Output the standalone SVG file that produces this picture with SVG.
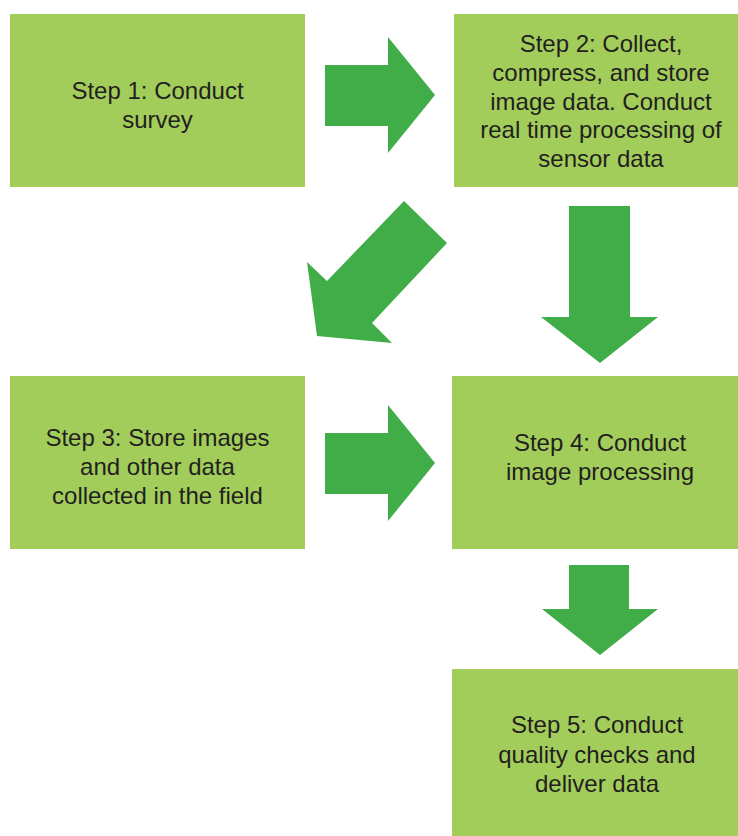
<svg xmlns="http://www.w3.org/2000/svg" width="738" height="836" viewBox="0 0 738 836">
  <style>
    .box { fill: #A2CD5A; }
    .arrow { fill: #41AD49; }
    .label { font-family: "Liberation Sans", Arial, sans-serif; font-size: 24px; fill: #231F20; text-anchor: middle; }
  </style>
  <rect width="738" height="836" fill="#FFFFFF"/>

  <g id="step1">
    <rect class="box" x="10" y="14" width="295" height="173"/>
    <text class="label" x="157.5" y="99">Step 1: Conduct</text>
    <text class="label" x="157.5" y="128">survey</text>
  </g>

  <g id="step2">
    <rect class="box" x="454" y="14" width="295" height="173"/>
    <text class="label" x="601" y="52">Step 2: Collect,</text>
    <text class="label" x="601" y="81">compress, and store</text>
    <text class="label" x="601" y="110">image data. Conduct</text>
    <text class="label" x="601" y="138">real time processing of</text>
    <text class="label" x="601" y="167">sensor data</text>
  </g>

  <g id="step3">
    <rect class="box" x="10" y="376" width="295" height="173"/>
    <text class="label" x="157.5" y="446">Step 3: Store images</text>
    <text class="label" x="157.5" y="475">and other data</text>
    <text class="label" x="157.5" y="504">collected in the field</text>
  </g>

  <g id="step4">
    <rect class="box" x="452" y="376" width="295" height="173"/>
    <text class="label" x="600" y="451">Step 4: Conduct</text>
    <text class="label" x="600" y="480">image processing</text>
  </g>

  <g id="step5">
    <rect class="box" x="452" y="669" width="290" height="167"/>
    <text class="label" x="597" y="733">Step 5: Conduct</text>
    <text class="label" x="597" y="763">quality checks and</text>
    <text class="label" x="597" y="792">deliver data</text>
  </g>

  <g id="connectors">
    <!-- 1 -> 2 -->
    <polygon class="arrow" points="325,65 388,65 388,37 435,95 388,153 388,126 325,126"/>
    <!-- 2 -> 3 (diagonal) -->
    <polygon class="arrow" points="404,201 447,243 372,323 392,343 317,336 307,262 327,281"/>
    <!-- 2 -> 4 -->
    <polygon class="arrow" points="569,206 630,206 630,317 658,317 600,363 541,317 569,317"/>
    <!-- 3 -> 4 -->
    <polygon class="arrow" points="325,433 388,433 388,405 435,463 388,521 388,494 325,494"/>
    <!-- 4 -> 5 -->
    <polygon class="arrow" points="569,565 629,565 629,609 658,609 600,655 542,609 569,609"/>
  </g>
</svg>
